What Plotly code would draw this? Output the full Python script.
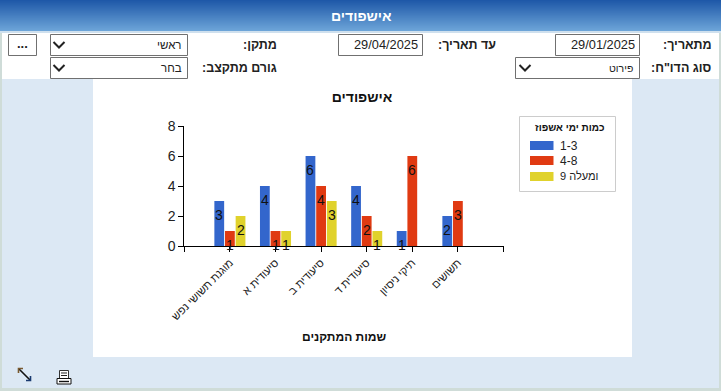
import plotly.graph_objects as go

W, H = 721, 391
categories = ["מוגנת תשושי נפש", "סיעודית א", "סיעודית ב", "סיעודית ד", "תיקי ניסיון", "תשושים"]
series_names = ["1-3", "4-8", "9 ומעלה"]
values_a = [3, 4, 6, 4, 1, 2]
values_b = [1, 1, 4, 2, 6, 3]
values_c = [2, 1, 3, 1, None, None]
colors = ["#3366cc", "#e03a12", "#e0d22c"]
y_ticks = [0, 2, 4, 6, 8]

FONT = "Liberation Sans, Arial, sans-serif"


def fx(x):
    return x / W


def fy(y):
    return 1 - y / H


shapes = []
annotations = []


def rect(x0, y0, x1, y1, fill=None, line=None, lw=1):
    shapes.append(dict(type="rect", xref="paper", yref="paper", x0=fx(x0), x1=fx(x1), y0=fy(y0), y1=fy(y1),
                       fillcolor=fill or "rgba(0,0,0,0)", line=dict(color=line or "rgba(0,0,0,0)", width=lw if line else 0),
                       layer="below"))


def path(points, color="#111111", lw=2, fill=None, close=False):
    d = "M" + " L".join(f"{fx(x):.5f},{fy(y):.5f}" for x, y in points) + (" Z" if close else "")
    shapes.append(dict(type="path", xref="paper", yref="paper", path=d, line=dict(color=color, width=lw),
                       fillcolor=fill or "rgba(0,0,0,0)", layer="above"))


def text(x, y, s, size=12, bold=False, color="#222222", anchor="right"):
    annotations.append(dict(xref="paper", yref="paper", x=fx(x), y=fy(y), text=f"<b>{s}</b>" if bold else s,
                            showarrow=False, xanchor=anchor, yanchor="middle", borderpad=0,
                            font=dict(family=FONT, size=size, color=color)))


# page chrome
rect(0, 0, W, H, "#dce8f4")
rect(0, 0, 2, H, "#cfdcd8")
rect(719, 0, W, H, "#cfdcd8")
rect(0, 388, W, H, "#cfdcd8")
top, bottom = (30, 88, 168), (108, 164, 216)
for i in range(31):
    t = i / 30
    c = tuple(round(a + (b - a) * t) for a, b in zip(top, bottom))
    rect(0, i, W, i + 1, "rgb(%d,%d,%d)" % c)
rect(0, 31, W, 33, "#cfe0ee")
rect(2, 33, 719, 79, "#ffffff")
rect(93, 79, 632, 357, "#ffffff")
text(361, 16, "אישפודים", 14, True, "#ffffff", "center")

BORDER = "#707070"
for x0, y0, x1, y1 in [(8.5, 34.5, 36.5, 55.5), (50.5, 34.5, 187.5, 55.5), (50.5, 57.5, 187.5, 78.5),
                       (338.5, 34.5, 422.5, 55.5), (555.5, 34.5, 639.5, 55.5), (515.5, 57.5, 639.5, 78.5)]:
    rect(x0, y0, x1, y1, "#ffffff", BORDER)
for cx, cy in [(59, 45), (59, 68), (525, 68)]:
    path([(cx - 5.5, cy - 3), (cx, cy + 2.5), (cx + 5.5, cy - 3)], "#222222", 2)

text(278, 45, "מתקן:\u200f", 12.5, True)
text(278, 68, "גורם מתקצב:\u200f", 12.5, True)
text(497, 45, "עד תאריך:\u200f", 12.5, True)
text(713, 45, "מתאריך:\u200f", 12.5, True)
text(713, 68, "סוג הדו\"ח:\u200f", 12.5, True)
text(183, 45, "ראשי", 11.5)
text(183, 68, "בחר", 11.5)
text(634, 68, "פירוט", 10.5)
text(419, 45, "29/04/2025", 12.8)
text(636, 45, "29/01/2025", 12.8)
text(22.5, 44, "...", 13, True, "#222222", "center")

# bottom icons
path([(19, 369), (30, 380)], "#111111", 1.6)
path([(18.5, 373), (18.5, 368.5), (23, 368.5)], "#7a5a30", 1.6)
path([(30.5, 376), (30.5, 380.5), (26, 380.5)], "#1a3a70", 1.6)
rect(59.5, 370.5, 68.5, 378.5, "#ffffff", "#333333")
path([(61, 373), (67, 373)], "#222222", 1)
path([(61, 375.5), (67, 375.5)], "#222222", 1)
rect(57, 378.5, 71, 384, "#ffffff", "#111111")
path([(59, 381.5), (69, 381.5)], "#111111", 1.4)

# manual legend
rect(519.5, 116.5, 615.5, 191.5, "#ffffff", "#cccccc")
text(569.5, 127.5, "כמות ימי אשפוז", 10, True, "#111111", "center")
for name, color, ly, fs in zip(series_names, colors, [145.5, 160.5, 176.5], [12, 12, 11]):
    rect(530, ly - 4.5, 553.5, ly + 4.5, color)
    text(558.5, ly, name, fs, False, "#222222", "left")

# chart
fig = go.Figure()
positions = list(range(len(categories)))
for name, vals, color in zip(series_names, [values_a, values_b, values_c], colors):
    fig.add_trace(go.Bar(x=positions, y=vals, name=name, marker=dict(color=color, line=dict(width=0)),
                         showlegend=False, hoverinfo="skip"))

SLOT = 10.6 / 45.57
for k, vals in enumerate([values_a, values_b, values_c]):
    for p, v in zip(positions, vals):
        if v is not None:
            annotations.append(dict(xref="x", yref="y", x=p + (k - 1) * SLOT, y=v, yshift=-13.5, text=str(v),
                                    showarrow=False, xanchor="center", yanchor="middle", borderpad=0,
                                    font=dict(family=FONT, size=14, color="#111111")))

text(344, 337, "שמות המתקנים", 12, True, "#111111", "center")

fig.update_layout(
    template=None,
    width=W, height=H, autosize=False, margin=dict(l=0, r=0, t=0, b=0, pad=0),
    paper_bgcolor="#dce8f4", plot_bgcolor="rgba(0,0,0,0)",
    barmode="group", bargap=0.30, bargroupgap=0.08, showlegend=False,
    font=dict(family=FONT, color="#111111"),
    title=dict(text="<b>אישפודים</b>", x=fx(362), y=fy(97), xanchor="center", yanchor="middle",
               xref="paper", yref="paper", font=dict(family=FONT, size=14, color="#111111")),
    xaxis=dict(domain=[fx(184.3), fx(503.5)], range=[-1, len(categories)], automargin=False,
               tickmode="array", tickvals=list(range(-1, len(categories) + 1)), ticktext=[""] + categories + [""],
               tickangle=-45, ticks="outside", ticklen=5, tickwidth=1, tickcolor="#000000",
               showline=True, linecolor="#000000", linewidth=1, showgrid=False, zeroline=False,
               tickfont=dict(family=FONT, size=11, color="#222222")),
    yaxis=dict(domain=[fy(246), fy(126)], range=[0, 8], automargin=False, tickvals=y_ticks, ticks="outside",
               ticklen=5, tickwidth=1,
               tickcolor="#000000", showline=True, linecolor="#000000", linewidth=1, showgrid=False, zeroline=False,
               tickfont=dict(family=FONT, size=14, color="#222222")),
    shapes=shapes, annotations=annotations,
)
fig.write_html("out.html", config=dict(displayModeBar=False, responsive=False),
               post_script="document.body.style.margin='0';document.body.style.overflow='hidden';")
